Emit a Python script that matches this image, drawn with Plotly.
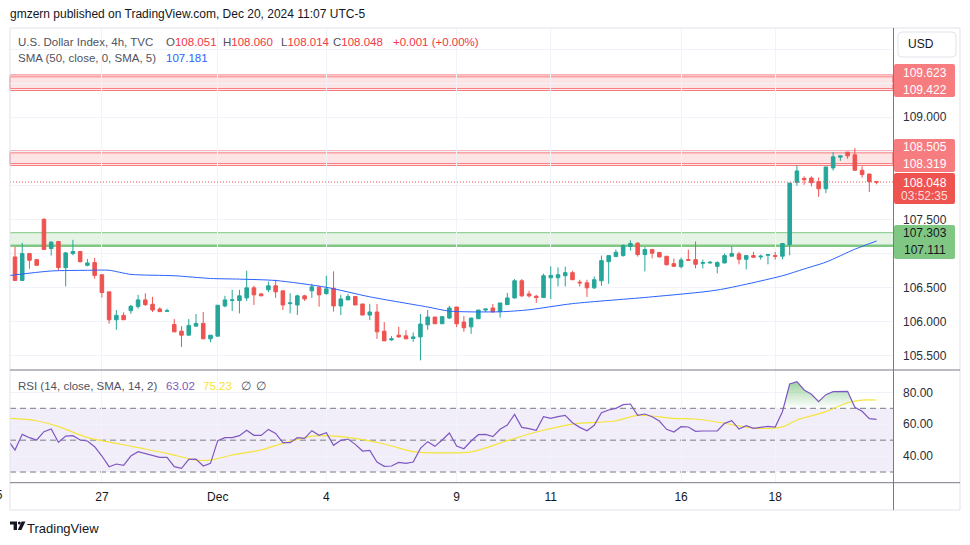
import plotly.graph_objects as go

# ---------------- data ----------------
bar_index = list(range(-1, 120))
opens = [106.98,
 106.947, 106.601, 106.996, 106.907, 107.500, 107.070, 107.174, 106.789, 106.996, 107.026,
 106.823, 106.863, 106.685, 106.433, 106.023, 106.087, 106.156, 106.216, 106.315, 106.250,
 106.181, 106.147, 105.954, 105.855, 105.796, 105.929, 105.969, 105.742, 105.781, 106.226,
 106.305, 106.305, 106.344, 106.492, 106.403, 106.463, 106.522, 106.448, 106.260, 106.240,
 106.374, 106.448, 106.502, 106.408, 106.487, 106.226, 106.315, 106.364, 106.255, 106.092,
 106.137, 105.855, 105.727, 105.796, 105.786, 105.747, 105.771, 105.949, 106.063, 105.964,
 106.048, 106.211, 105.989, 105.919, 106.038, 106.166, 106.196, 106.142, 106.245, 106.344,
 106.596, 106.403, 106.369, 106.349, 106.640, 106.640, 106.670, 106.715, 106.576, 106.566,
 106.492, 106.596, 106.877, 106.952, 106.966, 107.100, 107.149, 106.981, 107.055, 107.011,
 106.957, 106.848, 106.804, 106.907, 106.907, 106.853, 106.858, 106.808, 106.858, 106.957,
 106.991, 106.912, 106.966, 106.947, 106.971, 106.966, 106.957, 107.129, 108.043, 108.102,
 108.107, 108.053, 107.949, 108.255, 108.413, 108.487, 108.448, 108.221, 108.166, 108.051]
highs = [106.99,
 107.095, 107.154, 107.006, 106.917, 107.515, 107.179, 107.174, 107.021, 107.198, 107.026,
 106.917, 106.932, 106.685, 106.433, 106.166, 106.132, 106.240, 106.389, 106.413, 106.359,
 106.206, 106.186, 106.033, 105.929, 106.033, 106.107, 106.137, 105.796, 106.236, 106.374,
 106.463, 106.463, 106.744, 106.522, 106.413, 106.586, 106.611, 106.448, 106.413, 106.389,
 106.389, 106.552, 106.522, 106.670, 106.734, 106.389, 106.403, 106.374, 106.255, 106.255,
 106.255, 105.989, 105.781, 105.919, 105.870, 105.836, 106.107, 106.166, 106.063, 106.077,
 106.226, 106.211, 106.077, 106.048, 106.166, 106.181, 106.255, 106.270, 106.418, 106.621,
 106.621, 106.448, 106.389, 106.700, 106.808, 106.794, 106.803, 106.744, 106.611, 106.611,
 106.660, 106.966, 106.966, 107.055, 107.129, 107.189, 107.164, 107.090, 107.065, 107.021,
 106.957, 106.922, 106.937, 107.055, 107.174, 106.907, 106.883, 106.883, 106.996, 107.100,
 107.021, 106.966, 107.021, 106.981, 106.991, 107.021, 107.144, 108.033, 108.290, 108.132,
 108.132, 108.112, 108.270, 108.487, 108.433, 108.487, 108.547, 108.280, 108.166, 108.060]
lows = [106.94,
 106.601, 106.601, 106.774, 106.823, 107.055, 106.966, 106.744, 106.512, 106.971, 106.863,
 106.808, 106.626, 106.349, 105.964, 105.875, 106.023, 106.112, 106.186, 106.226, 106.137,
 106.142, 106.137, 105.845, 105.623, 105.796, 105.929, 105.742, 105.692, 105.781, 106.206,
 106.152, 106.117, 106.300, 106.240, 106.374, 106.428, 106.344, 106.166, 106.117, 106.092,
 106.300, 106.344, 106.215, 106.389, 106.142, 106.092, 106.315, 106.240, 106.092, 106.018,
 105.742, 105.712, 105.712, 105.756, 105.742, 105.697, 105.426, 105.875, 105.964, 105.964,
 106.033, 105.915, 105.845, 105.816, 106.038, 106.137, 106.137, 106.053, 106.245, 106.334,
 106.359, 106.349, 106.270, 106.349, 106.329, 106.512, 106.512, 106.611, 106.512, 106.359,
 106.477, 106.522, 106.552, 106.952, 106.952, 107.040, 106.952, 106.734, 106.927, 106.937,
 106.818, 106.808, 106.779, 106.897, 106.779, 106.779, 106.848, 106.705, 106.853, 106.957,
 106.838, 106.764, 106.942, 106.907, 106.838, 106.907, 106.912, 106.971, 107.994, 108.008,
 107.984, 107.831, 107.885, 108.216, 108.359, 108.389, 108.221, 108.112, 107.900, 108.014]
closes = [106.95,
 106.601, 106.996, 106.897, 106.823, 107.055, 107.164, 106.789, 107.006, 107.026, 106.877,
 106.858, 106.675, 106.423, 106.023, 106.087, 106.023, 106.221, 106.315, 106.245, 106.166,
 106.142, 106.156, 105.845, 105.796, 105.939, 105.969, 105.742, 105.796, 106.236, 106.315,
 106.315, 106.374, 106.492, 106.389, 106.374, 106.522, 106.433, 106.240, 106.270, 106.374,
 106.329, 106.507, 106.389, 106.477, 106.226, 106.329, 106.364, 106.240, 106.092, 106.137,
 105.845, 105.712, 105.742, 105.771, 105.742, 105.771, 105.959, 106.063, 105.964, 106.068,
 106.196, 105.964, 105.905, 106.048, 106.166, 106.181, 106.137, 106.270, 106.344, 106.596,
 106.374, 106.374, 106.349, 106.670, 106.675, 106.685, 106.715, 106.611, 106.566, 106.492,
 106.611, 106.892, 106.966, 107.016, 107.115, 107.144, 106.981, 107.055, 107.001, 106.947,
 106.833, 106.808, 106.902, 106.897, 106.838, 106.863, 106.868, 106.863, 106.966, 106.996,
 106.912, 106.966, 106.942, 106.957, 106.981, 106.957, 107.144, 108.033, 108.211, 108.083,
 108.038, 107.949, 108.270, 108.418, 108.433, 108.433, 108.221, 108.157, 108.053, 108.048]

sma_index = [-1, 5, 10, 13, 16, 22, 27, 31, 36, 43, 49, 57, 60, 67, 71, 77, 88, 97, 106, 109, 112, 116, 119]
sma_values = [106.67, 106.74, 106.75, 106.75, 106.69, 106.67, 106.63, 106.62, 106.60, 106.50, 106.36,
              106.21, 106.15, 106.14, 106.17, 106.26, 106.36, 106.46, 106.67, 106.77, 106.87, 107.06, 107.181]

rsi_values = [50.1,
 43.8, 53.65, 51.56, 50.1, 55.33, 57.0, 48.63, 52.6, 52.8, 50.1,
 49.47, 45.9, 40.05, 33.35, 35.02, 34.19, 40.05, 42.77, 41.72, 40.26,
 39.21, 39.21, 33.35, 32.3, 37.95, 38.16, 33.77, 35.44, 49.68, 51.56,
 51.56, 52.82, 56.16, 53.03, 53.03, 56.79, 54.28, 48.42, 48.42, 51.56,
 51.14, 55.95, 53.03, 54.7, 46.75, 49.89, 50.72, 47.37, 43.19, 43.6,
 36.28, 33.56, 33.77, 36.07, 35.44, 36.28, 44.86, 49.05, 46.12, 50.1,
 54.5, 46.33, 44.65, 49.47, 53.44, 53.65, 52.19, 56.79, 59.51, 66.21,
 58.05, 57.21, 56.16, 64.75, 63.7, 64.75, 65.58, 60.98, 58.05, 55.95,
 59.3, 67.26, 68.93, 69.98, 72.28, 72.7, 65.58, 66.42, 64.75, 62.03,
 56.79, 55.12, 58.47, 58.26, 55.54, 55.75, 55.95, 55.75, 60.56, 62.23,
 57.0, 59.1, 57.42, 57.84, 58.68, 58.26, 67.89, 85.26, 86.72, 81.49,
 78.77, 74.17, 78.56, 80.45, 80.65, 80.65, 70.61, 68.1, 63.49, 63.02]

rsi_ma_index = [-1, 3, 6, 10, 14, 17, 21, 25, 27, 30, 34, 37, 41, 44, 47, 51, 55, 59, 63, 68, 72,
                77, 83, 86, 91, 94, 98, 102, 106, 108, 112, 115, 117, 119]
rsi_ma_values = [63.7, 62.2, 58.5, 51.6, 48.0, 45.3, 41.7, 37.5, 37.5, 40.7, 43.8, 48.0, 52.6, 52.6,
                 51.1, 47.6, 42.8, 42.0, 42.6, 49.7, 55.1, 60.1, 62.2, 65.6, 63.7, 63.3, 60.6, 57.6,
                 58.3, 62.7, 67.9, 73.5, 75.2, 75.23]

date_tick_index = [12, 28, 43, 61, 74, 92, 105]
date_tick_text = ['27', 'Dec', '4', '9', '11', '16', '18']

price_grid = [105.5, 106.0, 106.5, 107.0, 107.5, 108.0, 108.5, 109.0, 109.5, 110.0]
price_grid_text = ['105.500', '106.000', '106.500', '', '107.500', '', '', '109.000', '', '']

rsi_ticks = [40, 60, 80]
rsi_tick_text = ['40.00', '60.00', '80.00']
rsi_levels = [70, 50, 30]

resistance_high = [109.422, 109.623]
resistance_low = [108.319, 108.505]
support_zone = [107.111, 107.303]
last_price = 108.048
countdown = '03:52:35'

# ---------------- styling ----------------
W, H = 970, 545
UP, DOWN = '#26A69A', '#EF5350'
FONT = 'Liberation Sans, Arial, sans-serif'
TXT = '#131722'
GREY = '#50535E'


def px(x):
    return x / W


def py(y):
    return 1 - y / H


fig = go.Figure()

fig.add_trace(go.Candlestick(
    x=bar_index, open=opens, high=highs, low=lows, close=closes,
    increasing=dict(line=dict(color=UP, width=1), fillcolor=UP),
    decreasing=dict(line=dict(color=DOWN, width=1), fillcolor=DOWN),
    whiskerwidth=0, xaxis='x', yaxis='y', showlegend=False, hoverinfo='skip'))

fig.add_trace(go.Scatter(x=sma_index, y=sma_values, mode='lines',
                         line=dict(color='#2962FF', width=1, shape='spline', smoothing=0.7),
                         xaxis='x', yaxis='y', showlegend=False, hoverinfo='skip'))

# overbought fill (RSI above 70)
ob_x, ob_y = [], []
for k, (xv, yv) in enumerate(zip(bar_index, rsi_values)):
    if k > 0:
        x0, y0 = bar_index[k - 1], rsi_values[k - 1]
        if (y0 > 70) != (yv > 70):
            xc = x0 + (70 - y0) * (xv - x0) / (yv - y0)
            ob_x.append(xc)
            ob_y.append(70)
    ob_x.append(xv)
    ob_y.append(max(yv, 70))

fig.add_trace(go.Scatter(x=ob_x, y=[70] * len(ob_x), mode='lines', line=dict(width=0),
                         xaxis='x2', yaxis='y2', showlegend=False, hoverinfo='skip'))
fig.add_trace(go.Scatter(x=ob_x, y=ob_y, mode='lines', line=dict(width=0), fill='tonexty',
                         fillcolor='rgba(76,175,80,0.3)',
                         fillgradient=dict(type='vertical',
                                           colorscale=[[0, 'rgba(76,175,80,0.0)'],
                                                       [1, 'rgba(76,175,80,0.55)']]),
                         xaxis='x2', yaxis='y2', showlegend=False, hoverinfo='skip'))

fig.add_trace(go.Scatter(x=rsi_ma_index, y=rsi_ma_values, mode='lines',
                         line=dict(color='#F5E43A', width=1.2, shape='spline', smoothing=0.8),
                         xaxis='x2', yaxis='y2', showlegend=False, hoverinfo='skip'))
fig.add_trace(go.Scatter(x=bar_index, y=rsi_values, mode='lines',
                         line=dict(color='#7E57C2', width=1.2),
                         xaxis='x2', yaxis='y2', showlegend=False, hoverinfo='skip'))

XR = [-0.69, 121.27]
shapes = []

# RSI background band and level lines
shapes.append(dict(type='rect', xref='x2 domain', yref='y2', x0=0, x1=1, y0=30, y1=70,
                   fillcolor='rgba(126,87,194,0.1)', line=dict(width=0), layer='below'))
for lv in rsi_levels:
    shapes.append(dict(type='line', xref='x2 domain', yref='y2', x0=0, x1=1, y0=lv, y1=lv,
                       line=dict(color='#787B86', width=1, dash='6px,4px'), layer='below'))

# resistance zones (double-edged)
for lo, hi in (resistance_high, resistance_low):
    for off in (0, -0.028):
        shapes.append(dict(type='rect', xref='x domain', yref='y', x0=0, x1=1,
                           y0=lo + off, y1=hi + off, fillcolor='rgba(242,54,69,0.07)',
                           line=dict(color='#F77C80', width=1), layer='below'))
# support zone
shapes.append(dict(type='rect', xref='x domain', yref='y', x0=0, x1=1,
                   y0=support_zone[0], y1=support_zone[1], fillcolor='rgba(76,175,80,0.14)',
                   line=dict(width=0), layer='below'))
shapes.append(dict(type='line', xref='x domain', yref='y', x0=0, x1=1,
                   y0=support_zone[1], y1=support_zone[1], line=dict(color='#81C784', width=1), layer='below'))
shapes.append(dict(type='line', xref='x domain', yref='y', x0=0, x1=1,
                   y0=support_zone[0], y1=support_zone[0], line=dict(color='#81C784', width=2.5), layer='below'))
# last price dotted line
shapes.append(dict(type='line', xref='x domain', yref='y', x0=0, x1=1, y0=last_price, y1=last_price,
                   line=dict(color=DOWN, width=1, dash='1px,2px')))

# frame and separators
shapes.append(dict(type='rect', xref='paper', yref='paper', x0=px(10), x1=px(960), y0=py(510), y1=py(28),
                   line=dict(color='#E0E3EB', width=1), fillcolor='rgba(0,0,0,0)'))
shapes.append(dict(type='line', xref='paper', yref='paper', x0=px(893.5), x1=px(893.5), y0=py(510), y1=py(28),
                   line=dict(color='#787B86', width=1)))
for yy in (370, 482.7):
    shapes.append(dict(type='line', xref='paper', yref='paper', x0=px(10), x1=px(960), y0=py(yy), y1=py(yy),
                       line=dict(color='#787B86', width=1)))


def rrect(x0, y0, x1, y1, r):
    pts = (f"M{px(x0 + r)},{py(y0)} L{px(x1 - r)},{py(y0)} Q{px(x1)},{py(y0)} {px(x1)},{py(y0 + r)} "
           f"L{px(x1)},{py(y1 - r)} Q{px(x1)},{py(y1)} {px(x1 - r)},{py(y1)} "
           f"L{px(x0 + r)},{py(y1)} Q{px(x0)},{py(y1)} {px(x0)},{py(y1 - r)} "
           f"L{px(x0)},{py(y0 + r)} Q{px(x0)},{py(y0)} {px(x0 + r)},{py(y0)} Z")
    return pts


# USD box
shapes.append(dict(type='path', xref='paper', yref='paper', path=rrect(898, 32, 956, 57, 4),
                   fillcolor='white', line=dict(color='#E0E3EB', width=1)))

# price-axis label boxes
label_boxes = [
    (64, 97, '#F77C80'),
    (139, 172, '#F77C80'),
    (173, 204, '#EF5350'),
    (225, 259, '#81C784'),
]
for y0, y1, col in label_boxes:
    shapes.append(dict(type='path', xref='paper', yref='paper', path=rrect(894, y0, 955, y1, 2),
                       fillcolor=col, line=dict(width=0)))

# TradingView logo mark
shapes.append(dict(type='path', xref='paper', yref='paper',
                   path=f"M{px(10)},{py(521.5)} L{px(17)},{py(521.5)} L{px(17)},{py(530)} L{px(13.6)},{py(530)} "
                        f"L{px(13.6)},{py(524.6)} L{px(10)},{py(524.6)} Z",
                   fillcolor=TXT, line=dict(width=0)))
shapes.append(dict(type='circle', xref='paper', yref='paper', x0=px(17.8), x1=px(20.8), y0=py(524.6), y1=py(521.6),
                   fillcolor=TXT, line=dict(width=0)))
shapes.append(dict(type='path', xref='paper', yref='paper',
                   path=f"M{px(21.6)},{py(521.5)} L{px(25.4)},{py(521.5)} L{px(21.4)},{py(530)} L{px(17.8)},{py(530)} Z",
                   fillcolor=TXT, line=dict(width=0)))

annotations = []


def txt(x, y, s, color=TXT, size=11.5, anchor='left'):
    annotations.append(dict(xref='paper', yref='paper', x=px(x), y=py(y), text=s, showarrow=False,
                            xanchor=anchor, yanchor='middle', borderpad=0,
                            font=dict(family=FONT, size=size, color=color)))


txt(9, 14, 'gmzern published on TradingView.com, Dec 20, 2024 11:07 UTC-5', TXT, 12)
txt(17, 42, 'U.S. Dollar Index, 4h, TVC', GREY)
red = '#F23645'
txt(165, 42, f"O<span style='color:{red}'>108.051</span>", GREY)
txt(222, 42, f"H<span style='color:{red}'>108.060</span>", GREY)
txt(280, 42, f"L<span style='color:{red}'>108.014</span>", GREY)
txt(332, 42, f"C<span style='color:{red}'>108.048</span>", GREY)
txt(392, 42, '+0.001 (+0.00%)', red)
txt(17, 58.5, 'SMA (50, close, 0, SMA, 5)', GREY)
txt(165, 58.5, '107.181', '#2962FF')
txt(17, 385.7, 'RSI (14, close, SMA, 14, 2)', GREY)
txt(165, 385.7, '63.02', '#7E57C2')
txt(202, 385.7, '75.23', '#F5E43A')
txt(240, 385.7, '∅', GREY)
txt(255, 385.7, '∅', GREY)
txt(4, 495, '25', TXT, 12, 'right')
txt(26, 528, 'TradingView', TXT, 13)
txt(907, 44.5, 'USD', TXT, 12)

# price-axis label texts
for yy, s, col in [(73.3, '109.623', 'white'), (90, '109.422', 'white'),
                   (147.3, '108.505', 'white'), (164, '108.319', 'white'),
                   (182.7, '108.048', 'white'), (196, countdown, 'rgba(255,255,255,0.8)'),
                   (233.3, '107.303', '#131722'), (250, '107.111', '#131722')]:
    txt(924.5, yy, s, col, 12, 'center')

fig.update_layout(
    width=W, height=H, margin=dict(l=0, r=0, t=0, b=0),
    paper_bgcolor='white', plot_bgcolor='white', hovermode=False, showlegend=False,
    boxgap=0.3,
    font=dict(family=FONT, size=12, color=TXT),
    xaxis=dict(domain=[px(10), px(893)], range=XR, anchor='y', showticklabels=False,
               tickvals=date_tick_index, showgrid=True, gridcolor='#F0F3FA', zeroline=False,
               showline=False, ticks='', rangeslider=dict(visible=False), fixedrange=True),
    yaxis=dict(domain=[py(370), py(28)], range=[105.284, 110.313], side='right', anchor='x',
               tickvals=price_grid, ticktext=price_grid_text, showgrid=True, gridcolor='#F0F3FA',
               zeroline=False, showline=False, ticks='', ticklabelstandoff=9,
               tickfont=dict(family=FONT, size=12, color='#2A2E39'), fixedrange=True),
    xaxis2=dict(domain=[px(10), px(893)], range=XR, anchor='y2', matches='x',
                tickvals=date_tick_index, ticktext=date_tick_text, showgrid=True, gridcolor='#F0F3FA',
                zeroline=False, showline=False, ticks='', ticklabelstandoff=5,
                tickfont=dict(family=FONT, size=12, color=TXT), fixedrange=True),
    yaxis2=dict(domain=[py(482.7), py(370)], range=[23.3, 94.05], side='right', anchor='x2',
                tickvals=rsi_ticks, ticktext=rsi_tick_text, showgrid=True, gridcolor='#F0F3FA',
                zeroline=False, showline=False, ticks='', ticklabelstandoff=9,
                tickfont=dict(family=FONT, size=12, color='#2A2E39'), fixedrange=True),
    shapes=shapes, annotations=annotations,
)

fig.write_html('out.html', config={'displayModeBar': False},
               post_script="document.body.style.margin='0px';document.body.style.overflow='hidden';")
